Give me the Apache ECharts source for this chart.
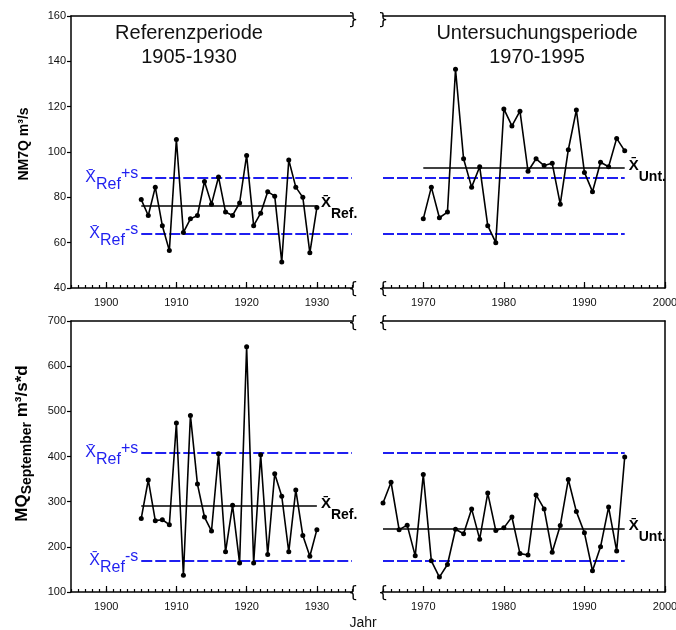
<!DOCTYPE html>
<html>
<head>
<meta charset="utf-8">
<script src="https://cdn.jsdelivr.net/npm/echarts@6/dist/echarts.min.js"></script>
<style>
  html, body { margin: 0; padding: 0; background: #fff; }
  #main { width: 676px; height: 630px; }
</style>
</head>
<body>
<div id="main"></div>
<script>
// years
const refYears = [1905, 1906, 1907, 1908, 1909, 1910, 1911, 1912, 1913, 1914, 1915, 1916, 1917,
  1918, 1919, 1920, 1921, 1922, 1923, 1924, 1925, 1926, 1927, 1928, 1929, 1930]
const untYearsNM7Q = [1970, 1971, 1972, 1973, 1974, 1975, 1976, 1977, 1978, 1979, 1980, 1981, 1982,
  1983, 1984, 1985, 1986, 1987, 1988, 1989, 1990, 1991, 1992, 1993, 1994, 1995]
const untYearsMQ = [1965, 1966, 1967, 1968, 1969, 1970, 1971, 1972, 1973, 1974, 1975, 1976, 1977,
  1978, 1979, 1980, 1981, 1982, 1983, 1984, 1985, 1986, 1987, 1988, 1989, 1990, 1991, 1992,
  1993, 1994, 1995]

// NM7Q m3/s
const nm7qRef = [79, 72, 84.5, 67.5, 56.5, 105.5, 64.5, 70.5, 72, 87, 77, 89, 73.5, 72, 77.5,
  98.5, 67.5, 73, 82.5, 80.5, 51.5, 96.5, 84.5, 80, 55.5, 75.5]
const nm7qUnt = [70.5, 84.5, 71, 73.5, 136.5, 97, 84.5, 93.5, 67.5, 60, 119, 111.5, 118, 91.5,
  97, 94, 95, 77, 101, 118.5, 91, 82.5, 95.5, 93.5, 106, 100.5]
// MQ September m3/s*d
const mqRef = [263, 348, 258, 260, 249, 474, 137, 491, 339, 266, 235, 406, 189, 292, 164, 643,
  164, 404, 183, 362, 312, 189, 326, 225, 179, 238]
const mqUnt = [297, 343, 238, 248, 180, 360, 169, 133, 161, 239, 229, 284, 217, 319, 236, 242,
  266, 185, 182, 315, 284, 188, 247, 349, 278, 231, 147, 200, 288, 191, 399]

// Mittelwerte / Standardabweichung
const nm7qStats = { refMean: 76.5, refPlusS: 88.5, refMinusS: 64, untMean: 93 }
const mqStats = { refMean: 290, refPlusS: 408, refMinusS: 170, untMean: 241 }

// Achsen
const refRange = [1895, 1935]
const untRange = [1965, 2000]
const refTicks = [1900, 1910, 1920, 1930]
const untTicks = [1970, 1980, 1990, 2000]
const nm7qAxis = [40, 160, 20]
const mqAxis = [100, 700, 100]

const FONT = 'Liberation Sans, Arial, sans-serif'
const BLUE = '#1f1ff0'

var myChart = echarts.init(document.getElementById('main'))

const grids = [
  { left: 71, top: 16, width: 281, height: 272, outerBoundsMode: 'none', containLabel: false },
  { left: 383, top: 16, width: 282, height: 272, outerBoundsMode: 'none', containLabel: false },
  { left: 71, top: 321, width: 281, height: 271, outerBoundsMode: 'none', containLabel: false },
  { left: 383, top: 321, width: 282, height: 271, outerBoundsMode: 'none', containLabel: false }
]
const panelRange = [refRange, untRange, refRange, untRange]
const panelTicks = [refTicks, untTicks, refTicks, untTicks]
const panelY = [nm7qAxis, nm7qAxis, mqAxis, mqAxis]

const xAxis = []
const yAxis = []
grids.forEach(function(g, i) {
  const r = panelRange[i]
  // Hauptachse unten
  xAxis.push({
    type: 'value', gridIndex: i, position: 'bottom', min: r[0], max: r[1], interval: 1,
    axisLine: { show: true, lineStyle: { color: '#000', width: 1.5 } },
    axisTick: { show: true, inside: true, length: 3, lineStyle: { color: '#000', width: 1.2 } },
    axisLabel: {
      customValues: panelTicks[i], color: '#111', fontSize: 11, fontFamily: FONT, margin: 9,
      formatter: function(v) { return String(v) }
    },
    splitLine: { show: false }
  })
  // lange Ticks
  xAxis.push({
    type: 'value', gridIndex: i, position: 'bottom', min: r[0], max: r[1],
    axisLine: { show: false },
    axisTick: { show: true, customValues: panelTicks[i], inside: true, length: 6, lineStyle: { color: '#000', width: 1.2 } },
    axisLabel: { show: false },
    splitLine: { show: false }
  })
  // Rahmen oben
  xAxis.push({
    type: 'value', gridIndex: i, position: 'top', min: r[0], max: r[1],
    axisLine: { show: true, lineStyle: { color: '#000', width: 1.5 } },
    axisTick: { show: false }, axisLabel: { show: false }, splitLine: { show: false }
  })
  const ya = panelY[i]
  if (i % 2 === 0) {
    yAxis.push({
      type: 'value', gridIndex: i, position: 'left', min: ya[0], max: ya[1], interval: ya[2],
      axisLine: { show: true, lineStyle: { color: '#000', width: 1.5 } },
      axisTick: { show: true, length: 4, lineStyle: { color: '#000', width: 1.2 } },
      axisLabel: { color: '#111', fontSize: 11, fontFamily: FONT, margin: 5 },
      splitLine: { show: false },
      nameLocation: 'middle'
    })
  } else {
    yAxis.push({
      type: 'value', gridIndex: i, position: 'right', min: ya[0], max: ya[1], interval: ya[2],
      axisLine: { show: true, lineStyle: { color: '#000', width: 1.5 } },
      axisTick: { show: false }, axisLabel: { show: false }, splitLine: { show: false }
    })
  }
})

// Achsentitel
yAxis[0].name = 'NM7Q m³/s'
yAxis[0].nameGap = 40
yAxis[0].nameTextStyle = { fontSize: 14, fontWeight: 'bold', color: '#000', fontFamily: FONT, padding: [0, 0, 0, 16] }
yAxis[2].name = '{a|MQ}{s|September}{a| m³/s*d}'
yAxis[2].nameGap = 37
yAxis[2].nameTextStyle = {
  color: '#000', fontFamily: FONT, padding: [0, 0, 0, 26],
  rich: {
    a: { fontSize: 17, fontWeight: 'bold', color: '#000', fontFamily: FONT },
    s: { fontSize: 14, fontWeight: 'bold', color: '#000', fontFamily: FONT, padding: [10, 0, 0, 0] }
  }
}

const blueRich = {
  x: { fontSize: 16, color: BLUE, fontFamily: FONT },
  sub: { fontSize: 16, color: BLUE, fontFamily: FONT, padding: [14, 0, 0, 0] },
  sup: { fontSize: 16, color: BLUE, fontFamily: FONT, padding: [0, 0, 8, 0] }
}
const meanRich = {
  x: { fontSize: 15, fontWeight: 'bold', color: '#000', fontFamily: FONT, padding: [0, 0, 4, 0] },
  sub: { fontSize: 14, fontWeight: 'bold', color: '#000', fontFamily: FONT, padding: [18, 0, 0, 0] }
}

function meanLine(x0, x1, y, tag) {
  return [
    {
      coord: [x0, y],
      lineStyle: { color: '#000', width: 1.5, type: 'solid' },
      label: { show: true, position: 'end', distance: 4, formatter: '{x|X\u0304}{sub|' + tag + '}', rich: meanRich }
    },
    { coord: [x1, y] }
  ]
}
function sLine(x0, x1, y, tag) {
  return [
    {
      coord: [x0, y],
      lineStyle: { color: BLUE, width: 2, type: [11, 3] },
      label: tag
        ? { show: true, position: 'start', distance: 3, formatter: '{x|X\u0304}{sub|Ref}{sup|' + tag + '}', rich: blueRich }
        : { show: false }
    },
    { coord: [x1, y] }
  ]
}

function dataSeries(idx, years, vals, lines) {
  return {
    type: 'line',
    xAxisIndex: idx * 3,
    yAxisIndex: idx,
    data: years.map(function(y, i) { return [y, vals[i]] }),
    symbol: 'circle',
    symbolSize: 5,
    itemStyle: { color: '#000' },
    lineStyle: { color: '#000', width: 1.6 },
    z: 3,
    markLine: {
      silent: true,
      symbol: ['none', 'none'],
      animation: false,
      z: 2,
      data: lines
    }
  }
}

const series = [
  dataSeries(0, refYears, nm7qRef, [
    meanLine(1905, 1930, nm7qStats.refMean, 'Ref.'),
    sLine(1905, 1935, nm7qStats.refPlusS, '+s'),
    sLine(1905, 1935, nm7qStats.refMinusS, '-s')
  ]),
  dataSeries(1, untYearsNM7Q, nm7qUnt, [
    meanLine(1970, 1995, nm7qStats.untMean, 'Unt.'),
    sLine(1965, 1995, nm7qStats.refPlusS, null),
    sLine(1965, 1995, nm7qStats.refMinusS, null)
  ]),
  dataSeries(2, refYears, mqRef, [
    meanLine(1905, 1930, mqStats.refMean, 'Ref.'),
    sLine(1905, 1935, mqStats.refPlusS, '+s'),
    sLine(1905, 1935, mqStats.refMinusS, '-s')
  ]),
  dataSeries(3, untYearsMQ, mqUnt, [
    meanLine(1965, 1995, mqStats.untMean, 'Unt.'),
    sLine(1965, 1995, mqStats.refPlusS, null),
    sLine(1965, 1995, mqStats.refMinusS, null)
  ])
]

// Bruchzeichen an den Achsen
function brace(x, y, ch) {
  return { type: 'text', x: x, y: y, z: 10,
    style: { text: ch, fontSize: 16, fontFamily: 'DejaVu Sans', fill: '#000', align: 'center', verticalAlign: 'middle' } }
}
const graphic = [
  brace(353, 20, '}'), brace(383, 20, '}'),
  brace(353, 289, '{'), brace(383, 289, '{'),
  brace(353, 323, '{'), brace(383, 323, '{'),
  brace(353, 593, '{'), brace(383, 593, '{'),
  { type: 'text', x: 189, y: 21, style: { text: 'Referenzperiode\n1905-1930', fontSize: 20, lineHeight: 24, fontFamily: FONT, fill: '#111', align: 'center', verticalAlign: 'top' } },
  { type: 'text', x: 537, y: 21, style: { text: 'Untersuchungsperiode\n1970-1995', fontSize: 20, lineHeight: 24, fontFamily: FONT, fill: '#111', align: 'center', verticalAlign: 'top' } },
  { type: 'text', x: 363, y: 623, style: { text: 'Jahr', fontSize: 14, fontFamily: FONT, fill: '#111', align: 'center', verticalAlign: 'middle' } }
]

var option = {
  animation: false,
  backgroundColor: '#fff',
  grid: grids,
  xAxis: xAxis,
  yAxis: yAxis,
  series: series,
  graphic: graphic
}
option && myChart.setOption(option)
</script>
</body>
</html>
